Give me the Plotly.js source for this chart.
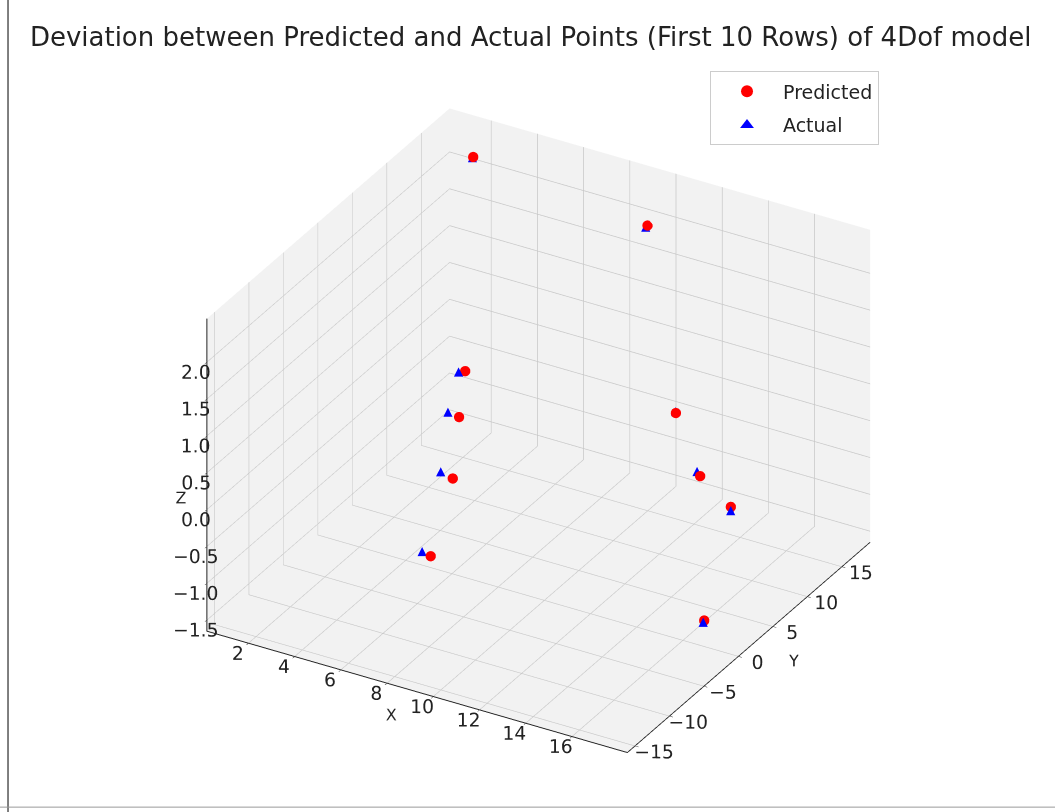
<!DOCTYPE html>
<html>
<head>
<meta charset="utf-8">
<script src="https://cdn.plot.ly/plotly-3.0.1.min.js"></script>
<style>
  html, body { margin: 0; padding: 0; background: #ffffff; }
  #chart { width: 1055px; height: 812px; }
</style>
</head>
<body>
<div id="chart"></div>
<script>
// Predicted points (first 10 rows)
const xPred = [2.39, 8.82, 6.15, 3.53, 12.35, 7.56, 13.57, 17.79, 9.48, 16.21];
const yPred = [15.17, 18.90, 1.41, 9.30, 11.19, -5.12, 10.62, 0.93, -14.75, 2.36];
const zPred = [2.45, 1.80, 1.00, -0.50, 0.20, 0.20, -0.50, 0.25, 0.10, -1.55];

// Actual points (first 10 rows)
const xAct = [2.34, 8.77, 5.97, 2.99, 12.31, 6.92, 13.30, 17.93, 9.03, 16.25];
const yAct = [15.23, 18.80, 1.05, 9.50, 11.26, -4.72, 11.08, 0.45, -14.49, 2.08];
const zAct = [2.43, 1.78, 1.00, -0.50, 0.21, 0.20, -0.50, 0.25, 0.10, -1.55];

// tick values shown on each axis
const xTicks = [2, 4, 6, 8, 10, 12, 14, 16];
const yTicks = [-15, -10, -5, 0, 5, 10, 15];
const zTicks = [-1.5, -1.0, -0.5, 0.0, 0.5, 1.0, 1.5, 2.0];

const titleText = 'Deviation between Predicted and Actual Points (First 10 Rows) of 4Dof model';
const FONT = 'DejaVu Sans, sans-serif';

const predTrace = {
  type: 'scatter3d', mode: 'markers', name: 'Predicted',
  legendgroup: 'p',
  x: xPred, y: yPred, z: zPred,
  marker: { symbol: 'circle', size: 6, color: '#ff0000', line: { width: 0 } },
  hoverinfo: 'x+y+z'
};

const actTrace = {
  type: 'scatter3d', mode: 'text', name: 'Actual', showlegend: false,
  legendgroup: 'a',
  x: xAct, y: yAct, z: zAct,
  text: xAct.map(() => '\u25B2'),
  textposition: 'middle center',
  textfont: { family: FONT, size: 12, color: '#0000ff' },
  hoverinfo: 'x+y+z'
};

// legend entry for the triangle symbol
const actLegend = {
  type: 'scatter', mode: 'markers', name: 'Actual',
  legendgroup: 'a',
  x: [null], y: [null],
  marker: { symbol: 'triangle-up', size: 9, color: '#0000ff' },
  xaxis: 'x', yaxis: 'y', hoverinfo: 'skip'
};

function axis(title, range, ticks, fmt) {
  return {
    range: range,
    tickmode: 'array',
    tickvals: ticks,
    tickformat: fmt,
    tickangle: 0,
    showbackground: true,
    backgroundcolor: 'rgb(242,242,242)',
    gridcolor: 'rgb(200,200,200)',
    gridwidth: 1.5,
    showline: true,
    linecolor: '#222',
    linewidth: 2,
    zeroline: false,
    showspikes: false,
    ticks: 'outside',
    tickcolor: '#222',
    ticklen: 4,
    tickfont: { family: FONT, size: 15, color: '#222' },
    title: { text: title, font: { family: FONT, size: 16, color: '#222' } }
  };
}

const layout = {
  width: 1055, height: 812,
  paper_bgcolor: '#ffffff',
  margin: { l: 0, r: 0, t: 0, b: 0 },
  font: { family: FONT, color: '#222' },
  title: {
    text: titleText,
    font: { family: FONT, size: 26, color: '#222' },
    x: 0.503, xanchor: 'center', xref: 'paper',
    y: 0.955, yanchor: 'middle', yref: 'container'
  },
  showlegend: true,
  legend: {
    x: 0.673, y: 0.912, xanchor: 'left', yanchor: 'top',
    bgcolor: 'rgba(255,255,255,0.8)', bordercolor: '#cccccc', borderwidth: 1,
    font: { family: FONT, size: 19, color: '#222' },
    itemwidth: 62,
    traceorder: 'grouped',
    tracegroupgap: 6,
    itemsizing: 'constant'
  },
  xaxis: { visible: false, domain: [0, 0.01] },
  yaxis: { visible: false, domain: [0, 0.01] },
  scene: {
    domain: { x: [0.05, 0.97], y: [0.01, 0.93] },
    aspectmode: 'manual',
    aspectratio: { x: 1.3, y: 1.3, z: 0.966 },
    camera: {
      eye: { x: 0.671, y: -1.1625, z: 0.775 },
      center: { x: 0, y: 0, z: 0 },
      up: { x: 0, y: 0, z: 1 },
      projection: { type: 'orthographic' }
    },
    xaxis: axis('X', [0.2, 18.4], xTicks),
    yaxis: axis('Y', [-16.1, 19.1], yTicks),
    zaxis: axis('Z', [-1.65, 2.59], zTicks, '.1f')
  },
  shapes: [
    { type: 'line', xref: 'paper', yref: 'paper', x0: 0.0076, x1: 0.0076, y0: 0, y1: 1, line: { color: '#555', width: 1.5 } },
    { type: 'line', xref: 'paper', yref: 'paper', x0: 0, x1: 1, y0: 0.006, y1: 0.006, line: { color: '#999', width: 1 } }
  ]
};

Plotly.newPlot('chart', [predTrace, actTrace, actLegend], layout, { displayModeBar: false, responsive: false });
</script>
</body>
</html>
